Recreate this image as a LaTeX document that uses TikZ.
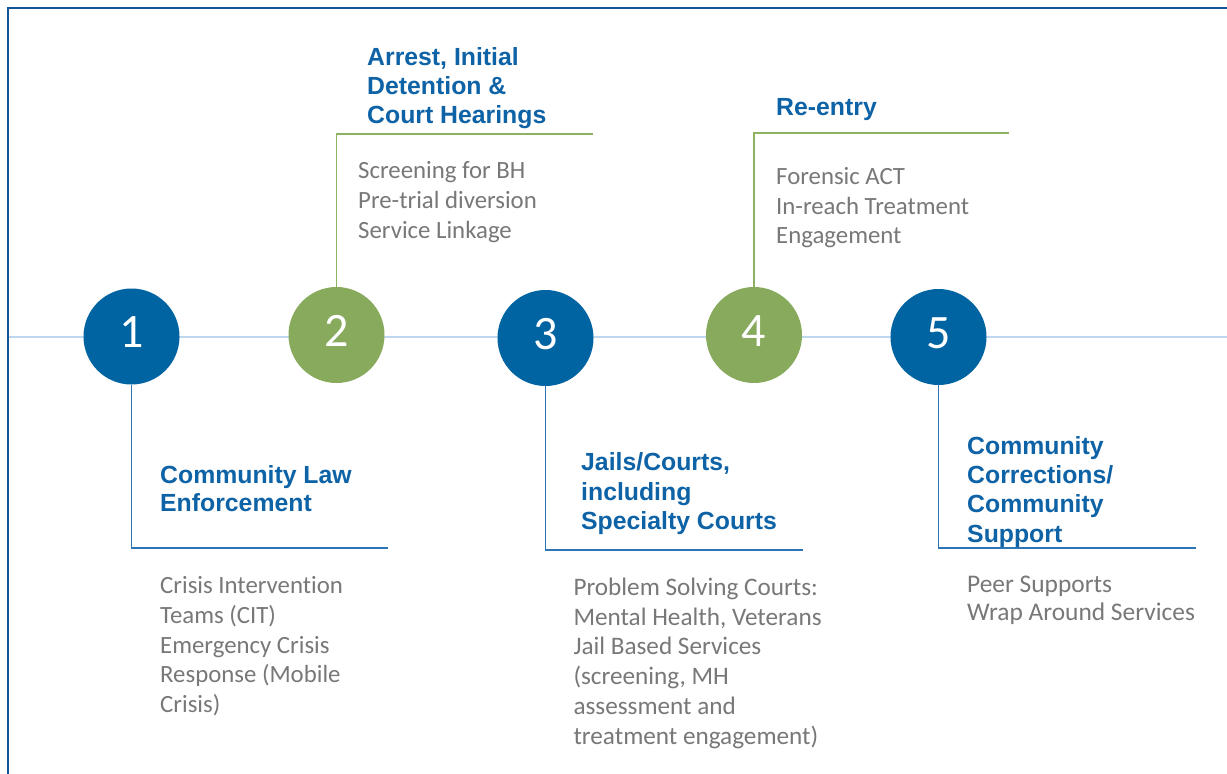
\documentclass[tikz,border=0pt]{standalone}
\usepackage{fontspec}
\setmainfont{Carlito}[RawFeature={-liga}]
\newfontfamily\headfont{Liberation Sans}
\definecolor{frameblue}{RGB}{16,84,150}
\definecolor{stageblue}{RGB}{0,99,162}
\definecolor{stagegreen}{RGB}{135,170,92}
\definecolor{headblue}{RGB}{14,98,166}
\definecolor{lineblue}{RGB}{46,117,182}
\definecolor{linegreen}{RGB}{141,179,96}
\definecolor{tlblue}{RGB}{189,215,238}
\definecolor{bodygray}{RGB}{120,120,120}
\newcommand\mystrut{\rule{0pt}{20pt}}
\tikzset{
  stage/.style={circle, minimum size=96pt, inner sep=0pt, text=white,
    font=\fontsize{48}{50}\selectfont, text height=30pt, text depth=8pt},
  heading/.style={anchor=north west, inner sep=0pt, align=left, text=headblue,
    font=\headfont\bfseries\fontsize{24.8}{29.2}\selectfont},
  bodytext/.style={anchor=north west, inner sep=0pt, align=left, text=bodygray,
    font=\fontsize{24.8}{29.8}\selectfont},
  conblue/.style={draw=lineblue, line width=1.7pt},
  congreen/.style={draw=linegreen, line width=1.7pt},
  timeline/.style={draw=tlblue, line width=2pt},
  frameline/.style={draw=frameblue, line width=2.5pt}
}
\begin{document}
\begin{tikzpicture}[x=1pt,y=-1pt]
\useasboundingbox (0,0) rectangle (1227,774);
\fill[white] (0,0) rectangle (1227,774);
% frame (top and left edges visible)
\coordinate (fbl) at (8,774);
\coordinate (ftl) at (8,8);
\coordinate (ftr) at (1227,8);
\draw[frameline] (fbl) -- (ftl) -- (ftr);
% timeline
\coordinate (tlL) at (9,336.5);
\coordinate (tlR) at (1227,336.5);
\draw[timeline] (tlL) -- (tlR);
% stages
\node[stage, fill=stageblue]  (c1) at (131.5,336.5) {1};
\node[stage, fill=stagegreen] (c2) at (336.5,335) {2};
\node[stage, fill=stageblue]  (c3) at (545.5,338) {3};
\node[stage, fill=stagegreen] (c4) at (754,335) {4};
\node[stage, fill=stageblue]  (c5) at (938.5,337) {5};
% connectors
\coordinate (e1) at (388,548);
\coordinate (e2) at (593,134);
\coordinate (e3) at (803,550);
\coordinate (e4) at (1009,133.3);
\coordinate (e5) at (1196,548.3);
\draw[conblue]  (c1.south) |- (e1);
\draw[congreen] (c2.north) |- (e2);
\draw[conblue]  (c3.south) |- (e3);
\draw[congreen] (c4.north) |- (e4);
\draw[conblue]  (c5.south) |- (e5);
% headings
\node[heading, font=\headfont\bfseries\fontsize{24.8}{28}\selectfont] (h1) at (160,463.3) {\mystrut Community Law\\Enforcement};
\node[heading] (h2) at (367,45) {\mystrut Arrest, Initial\\Detention \&\\Court Hearings};
\node[heading] (h3) at (581,450.7) {\mystrut Jails/Courts,\\including\\Specialty Courts};
\node[heading] (h4) at (776,95) {\mystrut Re-entry};
\node[heading] (h5) at (967,434.3) {\mystrut Community\\Corrections/\\Community\\Support};
% body texts
\node[bodytext] (b1) at (160,573.3) {\mystrut Crisis Intervention\\Teams (CIT)\\Emergency Crisis\\Response (Mobile\\Crisis)};
\node[bodytext] (b2) at (358,158.3) {\mystrut Screening for BH\\Pre-trial diversion\\Service Linkage};
\node[bodytext, font=\fontsize{25.2}{29.8}\selectfont] (b3) at (573.3,575) {\mystrut Problem Solving Courts:\\Mental Health, Veterans\\Jail Based Services\\(screening, MH\\assessment and\\treatment engagement)};
\node[bodytext] (b4) at (776,164) {\mystrut Forensic ACT\\In-reach Treatment\\Engagement};
\node[bodytext, font=\fontsize{25.4}{27.5}\selectfont] (b5) at (967,572.7) {\mystrut Peer Supports\\Wrap Around Services};
\end{tikzpicture}
\end{document}
